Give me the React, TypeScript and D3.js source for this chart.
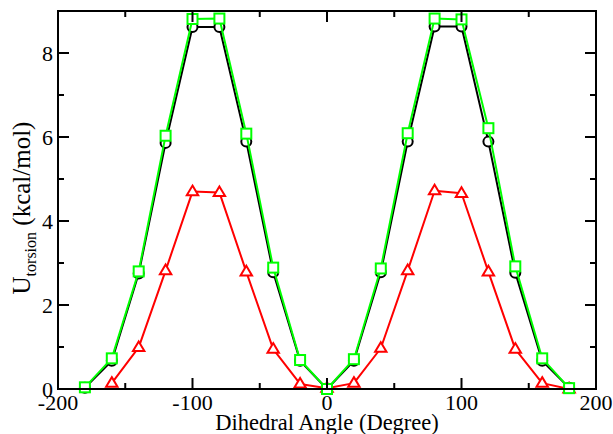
import React from "react";
import * as d3 from "d3";

// Torsion angle grid (degrees)
const angles = [-180, -160, -140, -120, -100, -80, -60, -40, -20, 0, 20, 40, 60, 80, 100, 120, 140, 160, 180];

// Torsion energy profiles (kcal/mol)
const blackSeries = [0.03, 0.67, 2.75, 5.86, 8.62, 8.62, 5.89, 2.78, 0.67, 0.0, 0.67, 2.78, 5.89, 8.63, 8.63, 5.89, 2.77, 0.67, 0.03];
const greenSeries = [0.04, 0.73, 2.8, 6.03, 8.81, 8.82, 6.08, 2.89, 0.69, 0.0, 0.71, 2.87, 6.09, 8.82, 8.8, 6.21, 2.92, 0.73, 0.02];
const redAngles = [-160, -140, -120, -100, -80, -60, -40, -20, 0, 20, 40, 60, 80, 100, 120, 140, 160, 180];
const redSeries = [0.14, 0.99, 2.82, 4.7, 4.68, 2.79, 0.95, 0.12, 0.02, 0.14, 0.97, 2.82, 4.72, 4.66, 2.79, 0.95, 0.14, 0.0];

const xMajor = [-200, -100, 0, 100, 200];
const xMinor = [-150, -50, 50, 150];
const yMajor = [0, 2, 4, 6, 8];
const yMinor = [1, 3, 5, 7];

const W = 613;
const H = 434;
const left = 58;
const right = 596;
const top = 11;
const bottom = 389;

const x = d3.scaleLinear().domain([-200, 200]).range([left, right]);
const y = d3.scaleLinear().domain([0, 9]).range([bottom, top]);

const FONT = '"Liberation Serif", "Times New Roman", Times, "DejaVu Serif", serif';

type Pt = [number, number];

function Series({ xs, ys, color, marker }: { xs: number[]; ys: number[]; color: string; marker: "circle" | "square" | "triangle" }) {
  const pts: Pt[] = xs.map((a, i) => [x(a), y(ys[i])]);
  const line = d3.line<Pt>().x((d) => d[0]).y((d) => d[1]);
  return (
    <g>
      <path d={line(pts) || ""} fill="none" stroke={color} strokeWidth={2} strokeLinejoin="round" />
      {pts.map(([px, py], i) => {
        if (marker === "circle")
          return <circle key={i} cx={px} cy={py} r={5} fill="white" stroke={color} strokeWidth={2} />;
        if (marker === "square")
          return <rect key={i} x={px - 5} y={py - 5} width={10} height={10} fill="white" stroke={color} strokeWidth={2} />;
        const s = 6;
        const d = `M${px},${py - s}L${px + s * 0.95},${py + s * 0.6}L${px - s * 0.95},${py + s * 0.6}Z`;
        return <path key={i} d={d} fill="white" stroke={color} strokeWidth={2} strokeLinejoin="miter" />;
      })}
    </g>
  );
}

export default function App() {
  const majorLen = 11;
  const minorLen = 6;
  return (
    <svg width={W} height={H} style={{ position: "absolute", left: 0, top: 0, background: "white", fontFamily: FONT }}>
      <rect x={0} y={0} width={W} height={H} fill="white" />
      <Series xs={angles} ys={blackSeries} color="#000000" marker="circle" />
      <Series xs={redAngles} ys={redSeries} color="#ff0000" marker="triangle" />
      <Series xs={angles} ys={greenSeries} color="#00ff00" marker="square" />

      {/* frame */}
      <rect x={left} y={top} width={right - left} height={bottom - top} fill="none" stroke="black" strokeWidth={2} />

      {/* inward ticks on all four sides */}
      <g stroke="black" strokeWidth={2}>
        {xMajor.map((v) => (
          <g key={"xM" + v}>
            <line x1={x(v)} x2={x(v)} y1={bottom} y2={bottom - majorLen} />
            <line x1={x(v)} x2={x(v)} y1={top} y2={top + majorLen} />
          </g>
        ))}
        {xMinor.map((v) => (
          <g key={"xm" + v}>
            <line x1={x(v)} x2={x(v)} y1={bottom} y2={bottom - minorLen} />
            <line x1={x(v)} x2={x(v)} y1={top} y2={top + minorLen} />
          </g>
        ))}
        {yMajor.map((v) => (
          <g key={"yM" + v}>
            <line x1={left} x2={left + majorLen} y1={y(v)} y2={y(v)} />
            <line x1={right} x2={right - majorLen} y1={y(v)} y2={y(v)} />
          </g>
        ))}
        {yMinor.map((v) => (
          <g key={"ym" + v}>
            <line x1={left} x2={left + minorLen} y1={y(v)} y2={y(v)} />
            <line x1={right} x2={right - minorLen} y1={y(v)} y2={y(v)} />
          </g>
        ))}
      </g>

      {/* tick labels */}
      <g style={{ fontFamily: FONT, fontSize: "22px" }} fill="black">
        {xMajor.map((v) => (
          <text key={"xl" + v} x={x(v)} y={410} textAnchor="middle">
            {v}
          </text>
        ))}
        {yMajor.map((v) => (
          <text key={"yl" + v} x={left - 5} y={y(v) + 8} textAnchor="end">
            {v}
          </text>
        ))}
      </g>

      {/* axis titles */}
      <text x={(left + right) / 2} y={430} textAnchor="middle" style={{ fontFamily: FONT, fontSize: "22.5px" }} fill="black">
        Dihedral Angle (Degree)
      </text>
      <text
        transform={`translate(30, 208) rotate(-90)`}
        textAnchor="middle"
        style={{ fontFamily: FONT, fontSize: "25px" }}
        fill="black"
      >
        U
        <tspan style={{ fontSize: "16px" }} dy={6}>torsion</tspan>
        <tspan dy={-6}> (kcal/mol)</tspan>
      </text>
    </svg>
  );
}
